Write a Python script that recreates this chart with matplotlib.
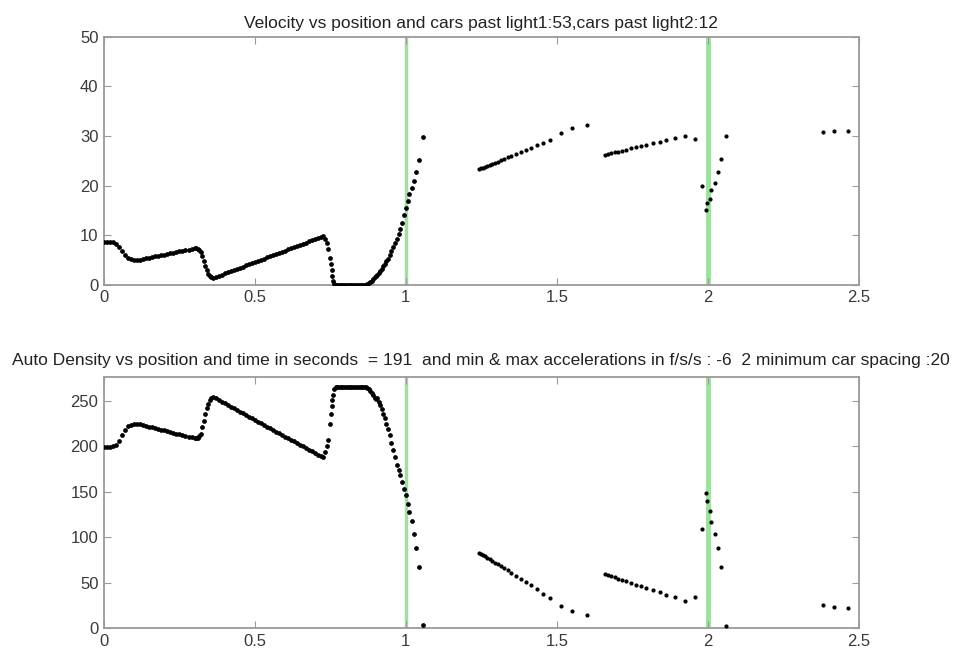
import matplotlib
matplotlib.use("Agg")
import matplotlib.pyplot as plt

# car positions (miles) and, for each car, velocity and local density
# dense queue of cars before the first light
pos_queue = [0.00, 0.01, 0.02, 0.03, 0.04, 0.05, 0.06, 0.07, 0.08, 0.09,
             0.10, 0.11, 0.12, 0.13, 0.14, 0.15, 0.16, 0.17, 0.18, 0.19,
             0.20, 0.21, 0.22, 0.23, 0.24, 0.25, 0.26, 0.27, 0.28, 0.29,
             0.30, 0.305, 0.31, 0.315, 0.32, 0.325, 0.33, 0.335, 0.34, 0.345,
             0.35, 0.355, 0.36, 0.37, 0.38, 0.39,
             0.40, 0.41, 0.42, 0.43, 0.44, 0.45, 0.46, 0.47, 0.48, 0.49,
             0.50, 0.51, 0.52, 0.53, 0.54, 0.55, 0.56, 0.57, 0.58, 0.59,
             0.60, 0.61, 0.62, 0.63, 0.64, 0.65, 0.66, 0.67, 0.68, 0.69,
             0.70, 0.71, 0.72, 0.725, 0.732, 0.738, 0.743, 0.748, 0.751, 0.754,
             0.757, 0.760, 0.763, 0.767, 0.772, 0.778, 0.784, 0.790, 0.796, 0.802,
             0.808, 0.814, 0.820, 0.826, 0.832, 0.838, 0.844, 0.850, 0.856, 0.862,
             0.867, 0.872, 0.877, 0.882, 0.887, 0.892, 0.897, 0.90, 0.905, 0.91,
             0.915, 0.92, 0.925, 0.93, 0.935, 0.94, 0.946, 0.952, 0.958, 0.964,
             0.970, 0.976, 0.982, 0.988, 0.994, 1.000, 1.006, 1.012, 1.019, 1.026,
             1.034, 1.045, 1.056]
vel_queue = [8.7, 8.7, 8.7, 8.6, 8.3, 7.6, 6.8, 6.0, 5.5, 5.2,
             5.0, 5.0, 5.1, 5.25, 5.4, 5.5, 5.6, 5.75, 5.9, 6.0,
             6.1, 6.25, 6.4, 6.5, 6.6, 6.75, 6.9, 7.0, 7.1, 7.25,
             7.35, 7.4, 7.3, 7.1, 6.6, 5.8, 4.8, 3.8, 3.0, 2.3,
             1.8, 1.5, 1.4, 1.63, 1.86, 2.09,
             2.32, 2.55, 2.78, 3.01, 3.24, 3.47, 3.70, 3.93, 4.16, 4.39,
             4.62, 4.85, 5.08, 5.31, 5.54, 5.77, 6.00, 6.23, 6.46, 6.69,
             6.92, 7.15, 7.38, 7.61, 7.84, 8.07, 8.30, 8.53, 8.76, 8.99,
             9.22, 9.45, 9.68, 9.8, 9.3, 8.5, 7.3, 5.5, 4.3, 3.0,
             1.8, 0.8, 0.2, 0.0, 0.0, 0.0, 0.0, 0.0, 0.0, 0.0,
             0.0, 0.0, 0.0, 0.0, 0.0, 0.0, 0.0, 0.0, 0.0, 0.0,
             0.05, 0.15, 0.3, 0.5, 0.8, 1.1, 1.5, 1.8, 2.0, 2.4,
             2.8, 3.3, 3.8, 4.3, 4.8, 5.3, 6.0, 6.8, 7.6, 8.4,
             9.3, 10.3, 11.3, 12.5, 14.0, 15.5, 17.0, 18.3, 19.5, 21.0,
             22.7, 25.2, 29.7]
dens_queue = [199, 199, 199, 200, 202, 206, 212, 218, 222, 224,
              225, 225, 224.5, 223.3, 222.5, 221.6, 220.8, 220, 219, 218.3,
              217.5, 216.6, 215.8, 215, 214, 213.3, 212.5, 211.6, 210.8, 210,
              209, 209, 209.5, 211, 214, 221, 228, 236, 242, 247,
              251, 253, 254, 252.7, 250.9, 249.1,
              247.2, 245.4, 243.6, 241.8, 240.0, 238.1, 236.3, 234.5, 232.7, 230.9,
              229.0, 227.2, 225.4, 223.6, 221.8, 219.9, 218.1, 216.3, 214.5, 212.7,
              210.8, 209.0, 207.2, 205.4, 203.6, 201.7, 199.9, 198.1, 196.3, 194.5,
              192.6, 190.8, 189.0, 188, 194, 200, 207, 225, 236, 244,
              251, 257, 263, 265.5, 265.5, 265.5, 265.5, 265.5, 265.5, 265.5,
              265.5, 265.5, 265.5, 265.5, 265.5, 265.5, 265.5, 265.5, 265.5, 265.5,
              265, 264, 263, 261, 259, 256, 253, 252, 253, 249,
              245, 241, 236, 231, 225, 219, 212, 204, 196, 188,
              180, 174, 168, 161, 153, 146, 137, 128, 118, 104,
              88, 67, 3]

pos_group2 = [1.243, 1.249, 1.256, 1.263, 1.270, 1.278, 1.286, 1.295, 1.304, 1.314,
              1.325, 1.337, 1.350, 1.364, 1.380, 1.397, 1.415, 1.434, 1.455, 1.478,
              1.515, 1.549, 1.600]
vel_group2 = [23.3, 23.45, 23.63, 23.80, 23.98, 24.18, 24.38, 24.61, 24.84, 25.09,
              25.37, 25.67, 26.00, 26.35, 26.75, 27.18, 27.63, 28.11, 28.64, 29.22,
              30.6, 31.7, 32.3]
dens_group2 = [83, 81.8, 80.3, 78.9, 77.4, 75.8, 74.1, 72.2, 70.4, 68.3,
               66.0, 63.5, 60.8, 57.9, 54.6, 51.1, 47.4, 43.5, 38.0, 32.7,
               24.6, 19.0, 15.0]

pos_group3 = [1.659, 1.670, 1.681, 1.692, 1.703, 1.717, 1.731, 1.747, 1.764, 1.780,
              1.797, 1.819, 1.841, 1.863, 1.891, 1.924, 1.957]
vel_group3 = [26.2, 26.4, 26.5, 26.7, 26.8, 27.0, 27.2, 27.5, 27.7, 28.0,
              28.2, 28.5, 28.8, 29.1, 29.5, 30.0, 29.4]
dens_group3 = [59.5, 58.2, 57.0, 55.8, 54.6, 53.0, 51.5, 49.7, 47.8, 46.1,
               44.2, 41.8, 39.3, 36.9, 33.8, 30.0, 34.5]

pos_group4 = [1.982, 1.995, 1.998, 2.007, 2.012, 2.023, 2.034, 2.045, 2.060]
vel_group4 = [20.0, 15.1, 16.5, 17.3, 19.2, 20.6, 22.7, 25.3, 30.0]
dens_group4 = [109, 149, 140, 129, 117, 104, 88.5, 67, 2]

pos_group5 = [2.382, 2.420, 2.465]
vel_group5 = [30.8, 31.0, 31.1]
dens_group5 = [25, 22.8, 22]

lights = [1, 2]
xticks = [0, 0.5, 1, 1.5, 2, 2.5]

posFree = pos_group2 + pos_group3 + pos_group4 + pos_group5
velFree = vel_group2 + vel_group3 + vel_group4 + vel_group5
densFree = dens_group2 + dens_group3 + dens_group4 + dens_group5

plt.rcParams['font.family'] = ['Liberation Sans', 'DejaVu Sans']

fig = plt.figure(figsize=(9.54, 6.55), dpi=100)
axTop = fig.add_axes([0.109, 0.565, 0.791, 0.379])
axBot = fig.add_axes([0.109, 0.041, 0.791, 0.383])

def styleAxes(ax):
    for side in ax.spines.values():
        side.set_color('#9a9a9a')
        side.set_linewidth(1.3)
    ax.tick_params(direction='in', top=True, right=True, length=5,
                   color='#9a9a9a', labelcolor='#3a3a3a', labelsize=12, pad=4)
    ax.set_xlim(0, 2.5)
    ax.set_xticks(xticks)
    ax.set_xticklabels(['0', '0.5', '1', '1.5', '2', '2.5'])

# top: velocity
for lx, lw in zip(lights, [2.5, 3.5]):
    axTop.axvline(lx, color='#9ee09e', linewidth=lw, zorder=1)
axTop.plot(pos_queue, vel_queue, linestyle='none', marker='.', markersize=4.8,
           color='black', zorder=3)
axTop.plot(posFree, velFree, linestyle='none', marker='.', markersize=4,
           color='black', zorder=3)
axTop.set_ylim(0, 50)
axTop.set_yticks([0, 10, 20, 30, 40, 50])
styleAxes(axTop)
axTop.set_title("Velocity vs position and cars past light1:53,cars past light2:12",
                fontsize=12.5, color='#222222', pad=6)

# bottom: density
for lx, lw in zip(lights, [2.5, 3.5]):
    axBot.axvline(lx, color='#9ee09e', linewidth=lw, zorder=1)
axBot.plot(pos_queue, dens_queue, linestyle='none', marker='.', markersize=4.8,
           color='black', zorder=3)
axBot.plot(posFree, densFree, linestyle='none', marker='.', markersize=4,
           color='black', zorder=3)
axBot.set_ylim(0, 276)
axBot.set_yticks([0, 50, 100, 150, 200, 250])
styleAxes(axBot)
axBot.set_title("Auto Density vs position and time in seconds  = 191  and min & max "
                "accelerations in f/s/s : -6  2 minimum car spacing :20",
                fontsize=12.5, color='#222222', pad=9)

fig.savefig("out.png", dpi=100)
